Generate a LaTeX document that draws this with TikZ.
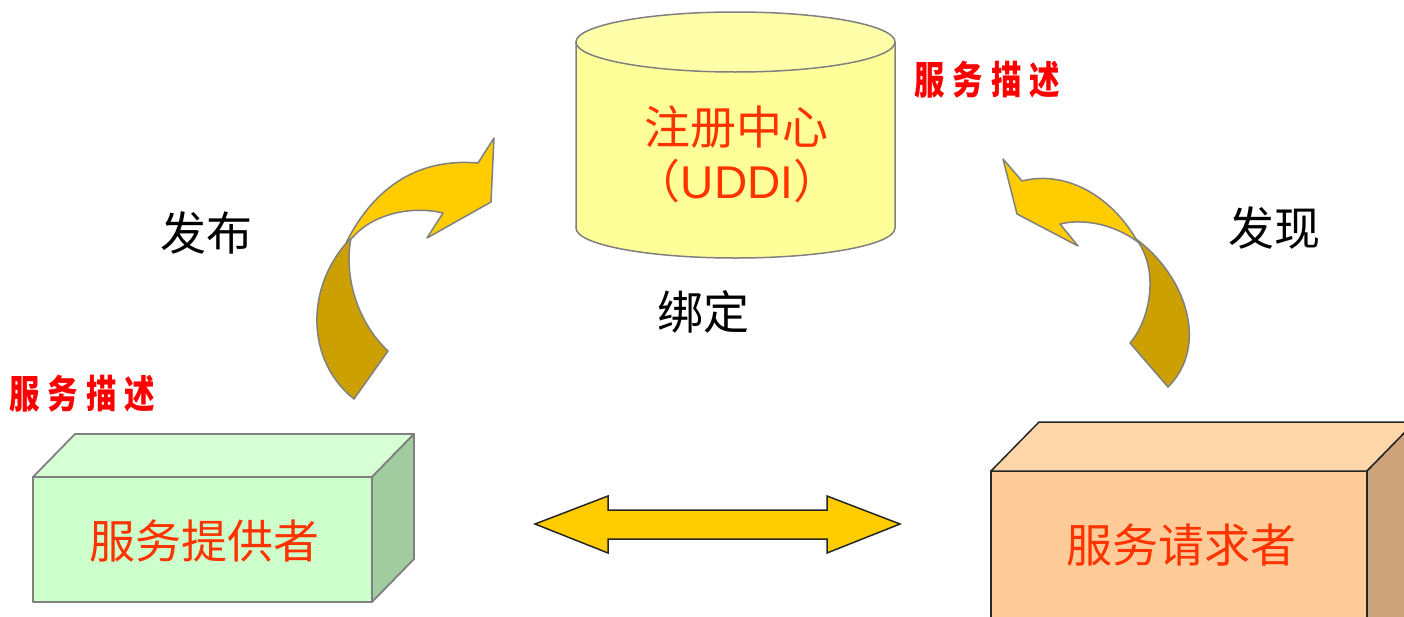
\documentclass[tikz,border=0pt]{standalone}
\usepackage{fontspec}
\usepackage{graphicx}
\newfontfamily\cjk{Noto Sans CJK SC}
\newfontfamily\latf{Liberation Sans}
\definecolor{txtred}{RGB}{255,51,0}
\definecolor{descred}{RGB}{255,0,0}
\definecolor{cylfill}{RGB}{255,255,153}
\definecolor{cyltop}{RGB}{255,255,170}
\definecolor{edgegray}{RGB}{128,128,128}
\definecolor{arrlight}{RGB}{255,204,0}
\definecolor{arrdark}{RGB}{204,160,0}
\definecolor{gfront}{RGB}{204,255,204}
\definecolor{gtop}{RGB}{214,255,214}
\definecolor{gside}{RGB}{160,204,160}
\definecolor{ofront}{RGB}{255,204,153}
\definecolor{otop}{RGB}{255,214,170}
\definecolor{oside}{RGB}{204,163,122}
\definecolor{oedge}{RGB}{38,38,38}
\newcommand\dsc[1]{\scalebox{0.78}[1]{#1}}
\tikzset{
  maintxt/.style={font=\cjk\fontsize{46}{50}\selectfont, inner sep=0pt, text=txtred},
  lbltxt/.style={font=\cjk\fontsize{46}{50}\selectfont, inner sep=0pt, text=black},
  desctxt/.style={font=\cjk\bfseries\fontsize{39}{42}\selectfont, inner sep=0pt, text=descred},
  cylline/.style={draw=edgegray, line width=1.5pt},
  lightarr/.style={fill=arrlight, draw=edgegray, line width=1.5pt, line join=round},
  darkarr/.style={fill=arrdark, draw=edgegray, line width=1.5pt, line join=round},
  gface/.style={draw=edgegray, line width=1.8pt, line join=round},
  oface/.style={draw=oedge, line width=1.5pt, line join=round},
  dblarr/.style={fill=arrlight, draw=oedge, line width=1.5pt, line join=miter},
}
\begin{document}
\begin{tikzpicture}[x=1pt,y=-1pt]
\useasboundingbox (0,0) rectangle (1404,616);
\clip (0,0) rectangle (1404,616);
\fill[white] (0,0) rectangle (1404,616);

% ---- cylinder (registry) ----
\fill[cylfill] (576,42) rectangle (895,228);
\fill[cylfill] (735.5,228) ellipse [x radius=159.5, y radius=30];
\draw[cylline] (576,42) -- (576,228)
  .. controls (576,244.6) and (647.4,258) .. (735.5,258)
  .. controls (823.6,258) and (895,244.6) .. (895,228) -- (895,42);
\filldraw[cylline, fill=cyltop] (735.5,42) ellipse [x radius=159.5, y radius=30];
\node[maintxt] (reg) at (736,127) {注册中心};
\node[maintxt] (uddi) at (737,181) {（{\latf UDDI}）};

% ---- description labels ----
\node[desctxt] (descR) at (987,80) {\dsc{服}\hspace{8pt}\dsc{务}\hspace{8pt}\dsc{描}\hspace{8pt}\dsc{述}};
\node[desctxt] (descL) at (82,394) {\dsc{服}\hspace{8pt}\dsc{务}\hspace{8pt}\dsc{描}\hspace{8pt}\dsc{述}};

% ---- action labels ----
\node[lbltxt] (pub) at (206,233) {发布};
\node[lbltxt] (find) at (1274,228) {发现};
\node[lbltxt] (bind) at (703,312) {绑定};

% ---- provider box ----
\node[gface, fill=gfront, minimum width=339pt, minimum height=125pt, outer sep=0pt] (prov) at (202.5,539.5) {};
\filldraw[gface, fill=gtop] (prov.north west) -- ++(42,-43) -- ++(339,0) -- (prov.north east) -- cycle;
\filldraw[gface, fill=gside] (prov.north east) -- ++(42,-43) -- ++(0,125) -- (prov.south east) -- cycle;
\node[maintxt] (provt) at (204,541) {服务提供者};

% ---- requester box ----
\node[oface, fill=ofront, minimum width=376pt, minimum height=190pt, outer sep=0pt] (req) at (1179,566) {};
\filldraw[oface, fill=otop] (req.north west) -- ++(48,-49) -- ++(376,0) -- (req.north east) -- cycle;
\filldraw[oface, fill=oside] (req.north east) -- ++(48,-49) -- ++(0,190) -- (req.south east) -- cycle;
\node[maintxt] (reqt) at (1181,545) {服务请求者};

% ---- double arrow (bind) ----
\filldraw[dblarr] (535,524) -- (608,496) -- (608,510) -- (827,510) -- (827,496) -- (900,524)
  -- (827,553) -- (827,539) -- (608,539) -- (608,553) -- cycle;

% ---- left curved arrow (publish) ----
\filldraw[darkarr] (354,399) -- (388,351)
  .. controls (360,325) and (343,280) .. (351,238)
  .. controls (305,285) and (305,360) .. (354,399) -- cycle;
\filldraw[lightarr] (346,243)
  .. controls (375,185) and (420,158) .. (478,163)
  -- (494,138) -- (491,202) -- (427,238) -- (443,213)
  .. controls (415,206) and (375,212) .. (353,237) -- cycle;

% ---- right curved arrow (find) ----
\filldraw[darkarr] (1136,239)
  .. controls (1185,275) and (1210,345) .. (1168,387)
  -- (1130,343)
  .. controls (1150,320) and (1160,270) .. (1136,239) -- cycle;
\filldraw[lightarr] (1022,181)
  .. controls (1065,170) and (1110,195) .. (1136,239)
  -- (1138,242)
  .. controls (1115,225) and (1085,218) .. (1060,224)
  -- (1078,246) -- (1017,214) -- (1003,159) -- cycle;
\end{tikzpicture}
\end{document}
